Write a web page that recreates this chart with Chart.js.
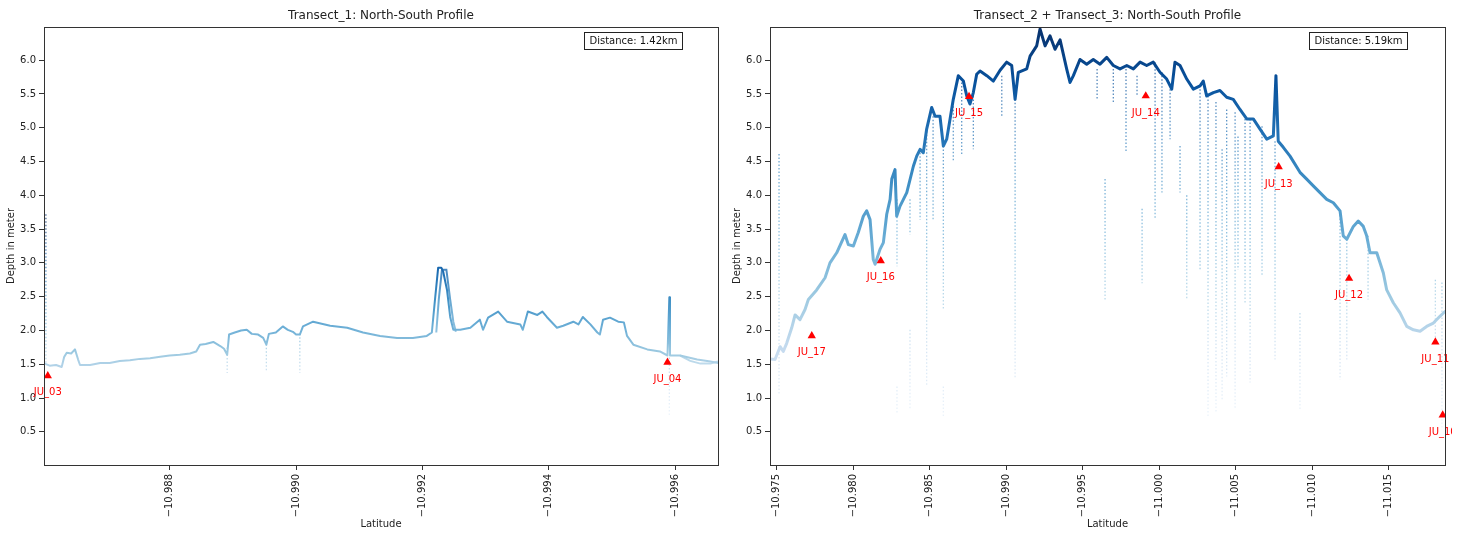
<!DOCTYPE html>
<html>
<head>
<meta charset="utf-8">
<title>North-South depth profiles</title>
<script src="https://cdn.jsdelivr.net/npm/chart.js@4/dist/chart.umd.min.js"></script>
<style>
  html, body { margin: 0; padding: 0; background: #fff; }
  #wrap { position: relative; width: 1461px; height: 533px; overflow: hidden; background: #fff; }
  .panel { position: absolute; top: 0; }
  #panel1 { left: 0; }
  #panel2 { left: 730px; }
</style>
</head>
<body>
<div id="wrap">
  <div class="panel" id="panel1"><canvas id="chart1" width="730" height="533"></canvas></div>
  <div class="panel" id="panel2"><canvas id="chart2" width="731" height="533"></canvas></div>
</div>
<script>
// ---------- Transect 1 ----------
const t1Lat = [
  -10.98602, -10.98610, -10.98620, -10.98629, -10.98633, -10.98637, -10.98644, -10.98650, -10.98655, -10.98658,
  -10.98674, -10.98690, -10.98705, -10.98721, -10.98737, -10.98753, -10.98769, -10.98785, -10.98800, -10.98816,
  -10.98832, -10.98842, -10.98848, -10.98857, -10.98869, -10.98880, -10.98886, -10.98891, -10.98894, -10.98903,
  -10.98913, -10.98922, -10.98930, -10.98940, -10.98948, -10.98953, -10.98957, -10.98968, -10.98979, -10.98987,
  -10.98995, -10.99000, -10.99006, -10.99011, -10.99027, -10.99054, -10.99081, -10.99106, -10.99133, -10.99160,
  -10.99185, -10.99207, -10.99215, -10.99220, -10.99225, -10.99230, -10.99233, -10.99239, -10.99244, -10.99249,
  -10.99260, -10.99276, -10.99291, -10.99296, -10.99304, -10.99320, -10.99334, -10.99355, -10.99359, -10.99367,
  -10.99382, -10.99390, -10.99397, -10.99413, -10.99423, -10.99439, -10.99447, -10.99454, -10.99466, -10.99477,
  -10.99481, -10.99486, -10.99497, -10.99510, -10.99519, -10.99524, -10.99534, -10.99556, -10.99576, -10.99588,
  -10.99591, -10.99592, -10.99608, -10.99635, -10.99656, -10.99668
];
const t1Depth = [
  1.51, 1.48, 1.49, 1.46, 1.61, 1.67, 1.66, 1.72, 1.57, 1.49,
  1.49, 1.52, 1.52, 1.55, 1.56, 1.58, 1.59, 1.61, 1.63, 1.64,
  1.66, 1.69, 1.79, 1.80, 1.83, 1.77, 1.73, 1.64, 1.94, 1.97,
  2.00, 2.01, 1.95, 1.94, 1.89, 1.79, 1.95, 1.97, 2.06, 2.01,
  1.98, 1.94, 1.94, 2.06, 2.13, 2.07, 2.04, 1.97, 1.92, 1.89,
  1.89, 1.92, 1.97, 2.46, 2.93, 2.93, 2.87, 2.60, 2.20, 2.01,
  2.01, 2.04, 2.16, 2.01, 2.19, 2.28, 2.13, 2.09, 2.01, 2.28,
  2.23, 2.28, 2.20, 2.04, 2.07, 2.13, 2.09, 2.20, 2.09, 1.97,
  1.94, 2.16, 2.19, 2.13, 2.12, 1.92, 1.79, 1.72, 1.69, 1.63,
  2.49, 1.63, 1.63, 1.57, 1.54, 1.52
];
// second survey pass (peak and the southern end)
const t1PassLat = [-10.99222, -10.99226, -10.99231, -10.99238, -10.99244, -10.99249, -10.99253, -10.99400,
  -10.99608, -10.99624, -10.99640, -10.99656, -10.99668];
const t1PassDepth = [1.97, 2.46, 2.90, 2.90, 2.46, 2.13, 1.98, null,
  1.63, 1.55, 1.51, 1.51, 1.54];
// scattered echo soundings (vertical streaks)
const t1StreakLat = [-10.98604, -10.98891, -10.98953, -10.99006, -10.99591];
const t1StreakTop = [3.72, 1.75, 1.85, 1.95, 1.60];
const t1StreakBottom = [1.50, 1.37, 1.40, 1.37, 0.74];
// stations
const t1StationNames = ['JU_03', 'JU_04'];
const t1StationLat = [-10.98607, -10.99588];
const t1StationDepth = [1.33, 1.53];
const t1LatTicks = [-10.988, -10.990, -10.992, -10.994, -10.996];

// ---------- Transect 2 + Transect 3 ----------
const t23Lat = [
  -10.97456, -10.97489, -10.97522, -10.97543, -10.97565, -10.97598, -10.97620, -10.97652, -10.97685, -10.97707,
  -10.97761, -10.97816, -10.97848, -10.97892, -10.97946, -10.97968, -10.98001, -10.98033, -10.98066, -10.98088,
  -10.98110, -10.98131, -10.98143, -10.98175, -10.98197, -10.98219, -10.98241, -10.98252, -10.98273, -10.98284,
  -10.98306, -10.98350, -10.98393, -10.98415, -10.98437, -10.98458, -10.98480, -10.98513, -10.98535, -10.98567,
  -10.98589, -10.98611, -10.98633, -10.98654, -10.98687, -10.98720, -10.98742, -10.98763, -10.98785, -10.98807,
  -10.98829, -10.98873, -10.98916, -10.98960, -10.99003, -10.99036, -10.99058, -10.99079, -10.99134, -10.99156,
  -10.99199, -10.99221, -10.99254, -10.99286, -10.99319, -10.99352, -10.99395, -10.99417, -10.99439, -10.99482,
  -10.99526, -10.99569, -10.99613, -10.99657, -10.99700, -10.99744, -10.99788, -10.99831, -10.99875, -10.99918,
  -10.99961, -11.00005, -11.00049, -11.00082, -11.00103, -11.00136, -11.00180, -11.00223, -11.00267, -11.00288,
  -11.00310, -11.00354, -11.00397, -11.00441, -11.00484, -11.00528, -11.00572, -11.00615, -11.00659, -11.00703,
  -11.00746, -11.00763, -11.00778, -11.00811, -11.00855, -11.00920, -11.00964, -11.01007, -11.01051, -11.01095,
  -11.01138, -11.01182, -11.01203, -11.01226, -11.01269, -11.01301, -11.01334, -11.01356, -11.01378, -11.01422,
  -11.01465, -11.01487, -11.01530, -11.01574, -11.01618, -11.01661, -11.01705, -11.01748, -11.01792, -11.01835,
  -11.01868
];
const t23Depth = [
  1.58, 1.57, 1.76, 1.69, 1.81, 2.04, 2.23, 2.16, 2.31, 2.46,
  2.60, 2.78, 3.00, 3.15, 3.42, 3.27, 3.25, 3.45, 3.69, 3.77,
  3.64, 3.05, 2.98, 3.20, 3.30, 3.72, 3.94, 4.24, 4.38, 3.69,
  3.84, 4.04, 4.43, 4.58, 4.68, 4.63, 4.98, 5.30, 5.17, 5.17,
  4.73, 4.83, 5.13, 5.42, 5.77, 5.69, 5.47, 5.35, 5.52, 5.79,
  5.84, 5.77, 5.69, 5.85, 5.97, 5.92, 5.42, 5.82, 5.87, 6.06,
  6.21, 6.46, 6.21, 6.36, 6.16, 6.30, 5.87, 5.67, 5.77, 6.01,
  5.94, 6.01, 5.94, 6.04, 5.92, 5.87, 5.92, 5.87, 5.97, 5.92,
  5.97, 5.82, 5.72, 5.57, 5.97, 5.92, 5.72, 5.57, 5.62, 5.69,
  5.47, 5.52, 5.55, 5.45, 5.42, 5.27, 5.13, 5.13, 4.98, 4.83,
  4.88, 5.77, 4.80, 4.71, 4.58, 4.34, 4.24, 4.14, 4.04, 3.94,
  3.89, 3.77, 3.40, 3.35, 3.54, 3.62, 3.54, 3.40, 3.15, 3.15,
  2.85, 2.60, 2.41, 2.26, 2.06, 2.01, 1.99, 2.06, 2.11, 2.21,
  2.28
];
const t23StreakLat = [
  -10.97515, -10.98286, -10.98286, -10.98371, -10.98371, -10.98437, -10.98480, -10.98522, -10.98589, -10.98589,
  -10.98654, -10.98709, -10.98785, -10.98971, -10.99058, -10.99594, -10.99700, -10.99783, -10.99855, -10.99973,
  -11.00018, -11.00071, -11.00136, -11.00267, -11.00319, -11.00371, -11.00441, -11.00496, -11.00515, -11.00561,
  -11.00594, -11.00672, -11.00757, -11.00920, -11.01182, -11.01226, -11.01365, -11.01805, -11.01848, -10.99646,
  -10.99888, -11.00180, -11.00411
];
const t23StreakTop = [
  4.61, 3.94, 1.17, 3.94, 2.01, 4.63, 5.00, 5.17, 4.73, 1.17,
  5.42, 5.67, 5.52, 5.77, 5.42, 5.87, 5.87, 5.87, 5.77, 5.97,
  5.82, 5.62, 4.73, 5.57, 5.47, 5.38, 5.27, 5.23, 4.87, 5.13,
  5.13, 5.02, 4.80, 2.26, 3.76, 3.35, 3.40, 2.75, 2.71, 4.24,
  3.80, 4.00, 4.68
];
const t23StreakBottom = [
  1.05, 2.95, 0.78, 3.42, 0.83, 3.64, 1.17, 3.64, 2.31, 0.72,
  4.49, 4.58, 4.68, 5.17, 1.31, 5.42, 5.38, 4.63, 5.47, 3.64,
  4.04, 4.83, 4.04, 2.90, 0.72, 0.78, 1.32, 0.83, 2.90, 2.41,
  1.23, 2.80, 1.57, 0.83, 1.27, 1.57, 2.46, 1.86, 0.53, 2.46,
  2.70, 2.46, 0.97
];
const t23StationNames = ['JU_17', 'JU_16', 'JU_15', 'JU_14', 'JU_13', 'JU_12', 'JU_11', 'JU_10'];
const t23StationLat = [-10.97729, -10.98180, -10.98757, -10.99912, -11.00781, -11.01241, -11.01805, -11.01853];
const t23StationDepth = [1.92, 3.03, 5.46, 5.47, 4.42, 2.77, 1.83, 0.75];
const t23LatTicks = [-10.975, -10.980, -10.985, -10.990, -10.995, -11.000, -11.005, -11.010, -11.015];

// shared depth axis
const depthTicks = [0.5, 1.0, 1.5, 2.0, 2.5, 3.0, 3.5, 4.0, 4.5, 5.0, 5.5, 6.0];

// ---------- drawing helpers ----------
Chart.defaults.font.family = '"DejaVu Sans", sans-serif';

// matplotlib "Blues" colour ramp
const BLUES = ['#f7fbff', '#deebf7', '#c6dbef', '#9ecae1', '#6baed6', '#4292c6', '#2171b5', '#08519c', '#08306b'];

function bluesStops(alpha) {
  return BLUES.map(h => {
    const n = parseInt(h.slice(1), 16);
    return 'rgba(' + (n >> 16) + ',' + ((n >> 8) & 255) + ',' + (n & 255) + ',' + alpha + ')';
  });
}

// vertical gradient so that colour follows depth through the y scale
function depthGradient(chart, norm, alpha) {
  const { ctx, chartArea, scales } = chart;
  if (!chartArea || !scales.y) return 'rgba(107,174,214,' + alpha + ')';
  const yLo = scales.y.getPixelForValue(norm.vmin);
  const yHi = scales.y.getPixelForValue(norm.vmax);
  const g = ctx.createLinearGradient(0, yLo, 0, yHi);
  const stops = bluesStops(alpha);
  stops.forEach((c, i) => g.addColorStop(i / (stops.length - 1), c));
  return g;
}

function pts(lats, depths) {
  return lats.map((x, i) => ({ x: x, y: depths[i] }));
}

function streakPts(lats, tops, bottoms) {
  const out = [];
  lats.forEach((x, i) => {
    out.push({ x: x, y: tops[i] }, { x: x, y: bottoms[i] }, { x: x, y: null });
  });
  return out;
}

// frame, panel title and the distance note
const panelDecor = {
  id: 'panelDecor',
  afterDraw(chart, args, opts) {
    const { ctx, chartArea: a } = chart;
    ctx.save();
    ctx.strokeStyle = '#333';
    ctx.lineWidth = 1;
    ctx.strokeRect(Math.round(a.left) + 0.5, Math.round(a.top) + 0.5,
                   Math.round(a.right - a.left), Math.round(a.bottom - a.top));
    ctx.fillStyle = '#222';
    ctx.font = '12px "DejaVu Sans"';
    ctx.textAlign = 'center';
    ctx.textBaseline = 'middle';
    ctx.fillText(opts.title, (a.left + a.right) / 2, 16);

    ctx.font = '10px "DejaVu Sans"';
    const w = ctx.measureText(opts.note).width;
    const pad = 5, h = 17;
    const right = Math.round(a.right - opts.noteInset) + 0.5;
    const top = Math.round(a.top + 5) + 0.5;
    const left = Math.round(right - w - 2 * pad) + 0.5;
    ctx.fillStyle = '#fff';
    ctx.fillRect(left, top, right - left, h);
    ctx.strokeStyle = '#222';
    ctx.strokeRect(left, top, right - left, h);
    ctx.fillStyle = '#111';
    ctx.fillText(opts.note, (left + right) / 2, top + h / 2 + 0.5);
    ctx.restore();
  }
};

// station names under the red markers
const stationLabels = {
  id: 'stationLabels',
  afterDatasetsDraw(chart, args, opts) {
    const { ctx } = chart;
    const idx = chart.data.datasets.findIndex(d => d.label === 'stations');
    if (idx < 0) return;
    const meta = chart.getDatasetMeta(idx);
    ctx.save();
    ctx.beginPath();
    ctx.rect(0, 0, opts.clipX, chart.height);
    ctx.clip();
    ctx.fillStyle = '#ff0000';
    ctx.font = '10px "DejaVu Sans"';
    ctx.textAlign = 'center';
    ctx.textBaseline = 'middle';
    meta.data.forEach((pt, i) => {
      ctx.fillText(opts.names[i], pt.x, pt.y + 17);
    });
    ctx.restore();
  }
};

function axisGrid() {
  return { drawOnChartArea: false, drawTicks: true, tickLength: 5, tickColor: '#333', tickWidth: 1 };
}

function makePanel(canvasId, p) {
  const datasets = [
    {
      label: 'streaks',
      data: streakPts(p.streakLat, p.streakTop, p.streakBottom),
      borderColor: c => depthGradient(c.chart, p.norm, 0.7),
      borderWidth: 1.3,
      borderDash: [1.5, 2],
      pointRadius: 0,
      spanGaps: false,
      order: 3
    },
    {
      label: 'profile',
      data: pts(p.lat, p.depth),
      borderColor: c => depthGradient(c.chart, p.norm, 1),
      borderWidth: p.lineWidth,
      borderJoinStyle: 'round',
      borderCapStyle: 'round',
      pointRadius: 0,
      tension: 0,
      order: 1
    },
    {
      label: 'stations',
      data: pts(p.stationLat, p.stationDepth),
      showLine: false,
      pointStyle: 'triangle',
      pointRadius: 4.8,
      pointBackgroundColor: '#ff0000',
      pointBorderColor: '#ff0000',
      pointBorderWidth: 0,
      clip: 0,
      order: 0
    }
  ];
  if (p.passLat) {
    datasets.push({
      label: 'pass 2',
      data: pts(p.passLat, p.passDepth),
      borderColor: c => depthGradient(c.chart, p.norm, 0.8),
      borderWidth: p.lineWidth,
      pointRadius: 0,
      spanGaps: false,
      order: 2
    });
  }
  return new Chart(document.getElementById(canvasId), {
    type: 'line',
    data: { datasets: datasets },
    plugins: [panelDecor, stationLabels],
    options: {
      responsive: false,
      animation: false,
      events: [],
      layout: { padding: { top: 27, right: p.padRight, bottom: 0, left: 0 } },
      plugins: {
        legend: { display: false },
        tooltip: { enabled: false },
        panelDecor: { title: p.title, note: p.note, noteInset: p.noteInset },
        stationLabels: { names: p.stationNames, clipX: p.labelClipX }
      },
      scales: {
        x: {
          type: 'linear',
          reverse: true,
          min: p.latMin,
          max: p.latMax,
          afterBuildTicks: s => { s.ticks = p.latTicks.map(v => ({ value: v })); },
          afterFit: s => { s.height = 68; },
          ticks: {
            autoSkip: false, minRotation: 90, maxRotation: 90, padding: 4,
            color: '#222', font: { size: 10 },
            callback: v => '\u2212' + Math.abs(v).toFixed(3)
          },
          grid: axisGrid(),
          border: { display: false },
          title: { display: true, text: 'Latitude', color: '#222', font: { size: 10 }, padding: { top: 0, bottom: 3 } }
        },
        y: {
          type: 'linear',
          min: 0.01,
          max: 6.49,
          afterBuildTicks: s => { s.ticks = depthTicks.map(v => ({ value: v })); },
          afterFit: s => { s.width = p.yAxisWidth; },
          ticks: { padding: 3, color: '#222', font: { size: 10 }, callback: v => v.toFixed(1) },
          grid: axisGrid(),
          border: { display: false },
          title: { display: true, text: 'Depth in meter', color: '#222', font: { size: 10 }, padding: { top: p.yTitlePad, bottom: 0 } }
        }
      }
    }
  });
}

makePanel('chart1', {
  title: 'Transect_1: North-South Profile',
  note: 'Distance: 1.42km',
  lat: t1Lat, depth: t1Depth,
  passLat: t1PassLat, passDepth: t1PassDepth,
  streakLat: t1StreakLat, streakTop: t1StreakTop, streakBottom: t1StreakBottom,
  stationNames: t1StationNames, stationLat: t1StationLat, stationDepth: t1StationDepth,
  latTicks: t1LatTicks, latMin: -10.99668, latMax: -10.98601,
  norm: { vmin: 0.5, vmax: 3.6 },
  lineWidth: 2,
  padRight: 12, yAxisWidth: 44, yTitlePad: 5, noteInset: 36, labelClipX: 730
});

makePanel('chart2', {
  title: 'Transect_2 + Transect_3: North-South Profile',
  note: 'Distance: 5.19km',
  lat: t23Lat, depth: t23Depth,
  streakLat: t23StreakLat, streakTop: t23StreakTop, streakBottom: t23StreakBottom,
  stationNames: t23StationNames, stationLat: t23StationLat, stationDepth: t23StationDepth,
  latTicks: t23LatTicks, latMin: -11.01868, latMax: -10.97456,
  norm: { vmin: 0.1, vmax: 6.5 },
  lineWidth: 3,
  padRight: 16, yAxisWidth: 40, yTitlePad: 1, noteInset: 38, labelClipX: 722
});
</script>
</body>
</html>
